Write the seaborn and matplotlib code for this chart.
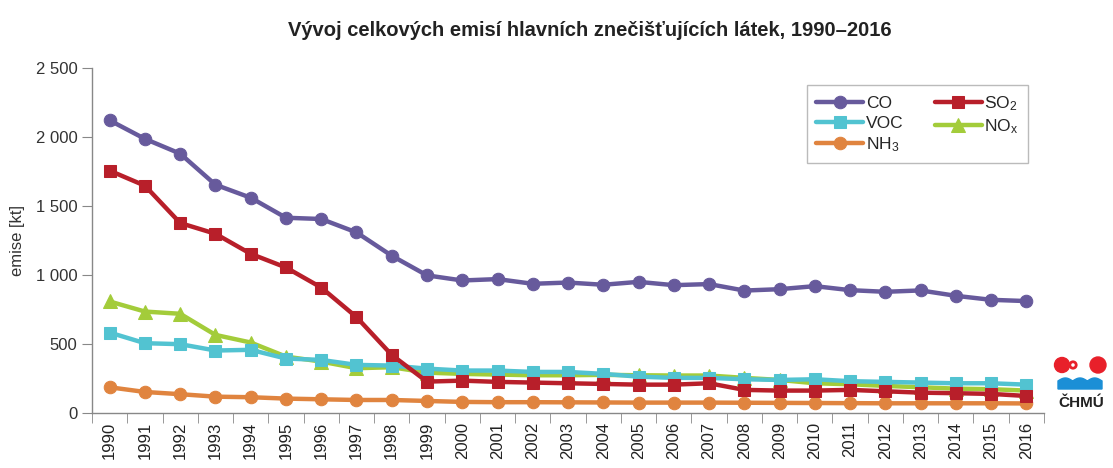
import numpy as np
import pandas as pd
import seaborn as sns
import matplotlib.pyplot as plt
from matplotlib.patches import Ellipse, Polygon
from matplotlib.ticker import FuncFormatter, FixedLocator

# Data (kt)
years = list(range(1990, 2017))
co = [2120, 1986, 1879, 1654, 1560, 1415, 1406, 1309, 1140, 998,
      961, 971, 937, 946, 930, 951, 927, 935, 888, 898,
      920, 891, 879, 889, 850, 821, 812]
so2 = [1756, 1647, 1377, 1299, 1154, 1055, 910, 696, 422, 229,
       236, 227, 222, 217, 212, 207, 207, 217, 169, 164,
       164, 169, 159, 149, 145, 140, 125]
voc = [584, 507, 500, 454, 459, 396, 386, 350, 345, 323,
       309, 309, 299, 299, 285, 265, 256, 256, 246, 241,
       246, 232, 227, 222, 217, 217, 207]
nox = [809, 736, 720, 567, 512, 410, 374, 326, 333, 294,
       285, 280, 275, 275, 278, 275, 273, 273, 256, 241,
       217, 210, 198, 188, 178, 174, 164]
nh3 = [188, 154, 138, 120, 116, 106, 101, 96, 96, 89,
       82, 80, 80, 79, 78, 77, 77, 77, 76, 75,
       74, 73, 72, 72, 72, 72, 71]

series = {"CO": co, "SO$_2$": so2, "VOC": voc, "NO$_x$": nox, "NH$_3$": nh3}
colors = {"CO": "#675a9c", "SO$_2$": "#b81f2a", "VOC": "#52c3d1",
          "NO$_x$": "#a3cc3a", "NH$_3$": "#e0843f"}
markers = {"CO": "o", "SO$_2$": "s", "VOC": "s", "NO$_x$": "^", "NH$_3$": "o"}

df = pd.DataFrame([
    {"pos": i, "year": y, "latka": name, "emise": v}
    for name, vals in series.items()
    for i, (y, v) in enumerate(zip(years, vals))
])

sns.set_style("white")
plt.rcParams["font.family"] = ["Liberation Sans", "DejaVu Sans"]
plt.rcParams["mathtext.default"] = "regular"

W, H = 11.13, 4.68
fig = plt.figure(figsize=(W, H), dpi=100)
ax = fig.add_axes([0.0827, 0.117, 0.8553, 0.738])

# draw order: bottom lines first, CO on top
for name in ["NH$_3$", "NO$_x$", "VOC", "SO$_2$", "CO"]:
    sub = df[df["latka"] == name]
    sns.lineplot(data=sub, x="pos", y="emise", ax=ax, color=colors[name],
                 marker=markers[name], markersize=9 if markers[name] != "^" else 10,
                 markeredgecolor=colors[name], linewidth=3.2, label=name)

ax.set_xlim(-0.5, len(years) - 0.5)
ax.set_ylim(0, 2500)
ax.set_yticks(np.arange(0, 2501, 500))
ax.yaxis.set_major_formatter(FuncFormatter(lambda v, p: f"{int(v):,}".replace(",", " ")))
ax.set_xticks(range(len(years)))
ax.set_xticklabels([str(y) for y in years], rotation=90)
ax.xaxis.set_minor_locator(FixedLocator(np.arange(-0.5, len(years), 1)))
ax.tick_params(axis="x", which="major", length=0, pad=6, labelsize=12, colors="#222222")
ax.tick_params(axis="x", which="minor", length=7, color="#888888", direction="out",
               bottom=True)
ax.tick_params(axis="y", length=7, color="#888888", labelsize=12, colors="#333333",
               direction="out", left=True)

for s in ["top", "right"]:
    ax.spines[s].set_visible(False)
for s in ["left", "bottom"]:
    ax.spines[s].set_color("#888888")
    ax.spines[s].set_linewidth(1.0)

ax.set_xlabel("")
ax.set_ylabel("emise [kt]", fontsize=12, color="#333333", labelpad=8)

handles, labels = ax.get_legend_handles_labels()
hmap = dict(zip(labels, handles))
order = ["CO", "VOC", "NH$_3$", "SO$_2$", "NO$_x$"]
leg = ax.legend([hmap[k] for k in order], order, ncol=2, loc="upper right",
                bbox_to_anchor=(0.983, 0.951), borderaxespad=0, frameon=True,
                fancybox=False, fontsize=12.5, handlelength=2.7, columnspacing=1.8,
                handletextpad=0.15, labelspacing=0.25, borderpad=0.55)
leg.get_frame().set_edgecolor("#aaaaaa")
leg.get_frame().set_linewidth(1.0)

fig.text(0.53, 0.935, "Vývoj celkových emisí hlavních znečišťujících látek, 1990–2016",
         ha="center", va="center", fontsize=14.5, fontweight="bold", color="#222222")


# ČHMÚ logo (approximation), positions in pixels
def px(x, y):
    return x / (W * 100), 1 - y / (H * 100)


def dot(x, y, r, **kw):
    fig.patches.append(Ellipse(px(x, y), 2 * r / (W * 100), 2 * r / (H * 100),
                               transform=fig.transFigure, zorder=5, **kw))


dot(1062, 365, 7.5, color="#e8202a")
dot(1098, 365, 8, color="#e8202a")
dot(1073, 365, 3.2, facecolor="white", edgecolor="#e8202a", lw=2)
wx = np.linspace(1058, 1102, 80)
wy = 381 - 3 * np.abs(np.sin((wx - 1058) / 44 * 3 * np.pi))
pts = [px(a, b) for a, b in zip(wx, wy)] + [px(1102, 389), px(1058, 389)]
fig.patches.append(Polygon(pts, closed=True, transform=fig.transFigure,
                           color="#1b8fd6", zorder=5))
fig.text(px(1081, 403)[0], px(1081, 403)[1], "ČHMÚ", ha="center", va="center",
         fontsize=11, fontweight="bold", color="#222222")

fig.savefig("out.png", dpi=100)
plt.close(fig)
